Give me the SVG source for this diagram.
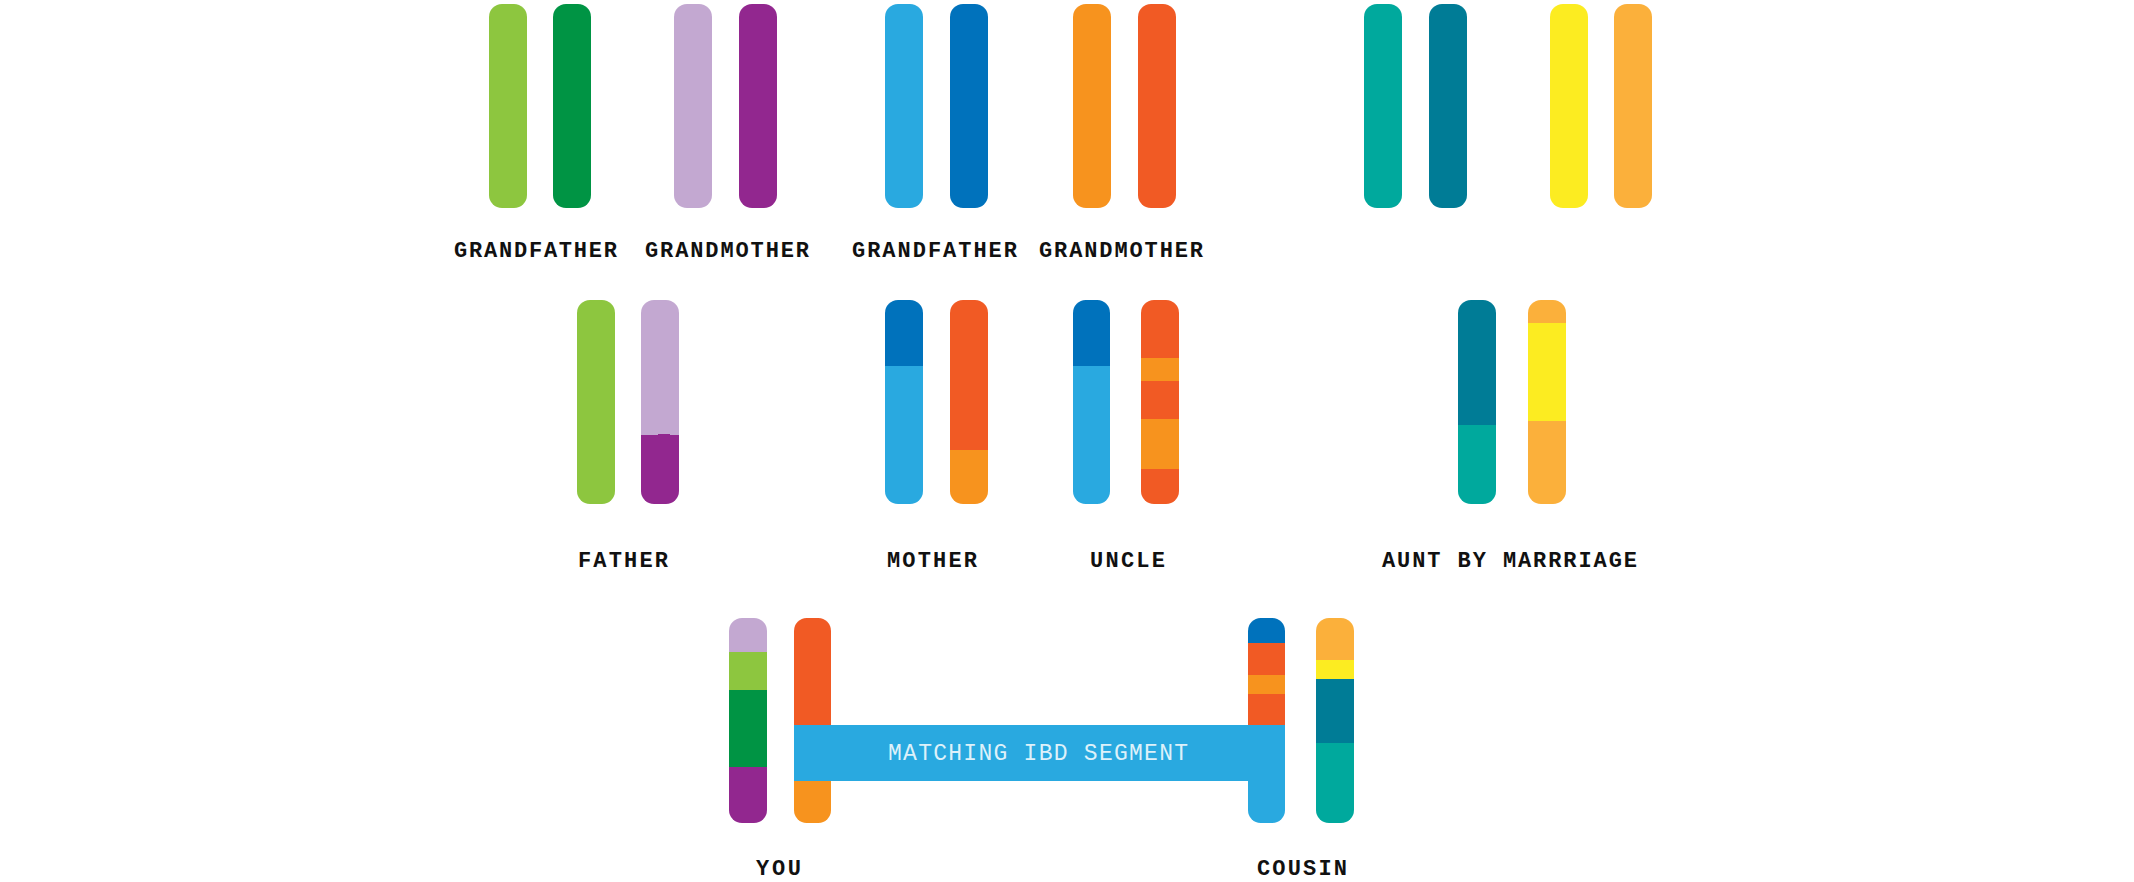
<svg xmlns="http://www.w3.org/2000/svg" width="2134" height="882" viewBox="0 0 2134 882">
<style>
.lbl{font-family:"Liberation Mono","DejaVu Sans Mono",monospace;font-size:22px;font-weight:bold;fill:#111}
.band-t{font-family:"Liberation Mono","DejaVu Sans Mono",monospace;font-size:23px;fill:#DDF1FA}
.lg{fill:#8DC63F}.g{fill:#009444}.lp{fill:#C3A8D1}.p{fill:#92278F}
.lb{fill:#29A9E0}.b{fill:#0072BC}.o{fill:#F7931E}.r{fill:#F15A24}
.t{fill:#00A99D}.dt{fill:#007C96}.y{fill:#FCEC21}.lo{fill:#FBB03B}
</style>
<defs>
<clipPath id="bar" clipPathUnits="objectBoundingBox"><rect x="0" y="0" width="1" height="1" rx="0.342" ry="0.0637"/></clipPath>
</defs>
<rect width="2134" height="882" fill="#fff"/>

<g id="grandfather1">
<rect class="lg" x="489" y="4" width="38" height="204" rx="13"/>
<rect class="g" x="553" y="4" width="38" height="204" rx="13"/>
<text class="lbl" x="454" y="257" textLength="163" lengthAdjust="spacing">GRANDFATHER</text>
</g>
<g id="grandmother1">
<rect class="lp" x="674" y="4" width="38" height="204" rx="13"/>
<rect class="p" x="739" y="4" width="38" height="204" rx="13"/>
<text class="lbl" x="645" y="257" textLength="164" lengthAdjust="spacing">GRANDMOTHER</text>
</g>
<g id="grandfather2">
<rect class="lb" x="885" y="4" width="38" height="204" rx="13"/>
<rect class="b" x="950" y="4" width="38" height="204" rx="13"/>
<text class="lbl" x="852" y="257" textLength="165" lengthAdjust="spacing">GRANDFATHER</text>
</g>
<g id="grandmother2">
<rect class="o" x="1073" y="4" width="38" height="204" rx="13"/>
<rect class="r" x="1138" y="4" width="38" height="204" rx="13"/>
<text class="lbl" x="1039" y="257" textLength="164" lengthAdjust="spacing">GRANDMOTHER</text>
</g>
<g id="grandparents3">
<rect class="t" x="1364" y="4" width="38" height="204" rx="13"/>
<rect class="dt" x="1429" y="4" width="38" height="204" rx="13"/>
</g>
<g id="grandparents4">
<rect class="y" x="1550" y="4" width="38" height="204" rx="13"/>
<rect class="lo" x="1614" y="4" width="38" height="204" rx="13"/>
</g>

<g id="father">
<rect class="lg" x="577" y="300" width="38" height="204" rx="13"/>
<g clip-path="url(#bar)">
<rect class="lp" x="641" y="300" width="38" height="135"/>
<rect class="p" x="641" y="435" width="38" height="69"/>
</g>
<rect class="p" x="658" y="434" width="12" height="2"/>
<text class="lbl" x="578" y="567" textLength="90" lengthAdjust="spacing">FATHER</text>
</g>
<g id="mother">
<g clip-path="url(#bar)">
<rect class="b" x="885" y="300" width="38" height="66"/>
<rect class="lb" x="885" y="366" width="38" height="138"/>
</g>
<g clip-path="url(#bar)">
<rect class="r" x="950" y="300" width="38" height="150"/>
<rect class="o" x="950" y="450" width="38" height="54"/>
</g>
<text class="lbl" x="887" y="567" textLength="90" lengthAdjust="spacing">MOTHER</text>
</g>
<g id="uncle">
<g clip-path="url(#bar)">
<rect class="b" x="1073" y="300" width="37" height="66"/>
<rect class="lb" x="1073" y="366" width="37" height="138"/>
</g>
<g clip-path="url(#bar)">
<rect class="r" x="1141" y="300" width="38" height="58"/>
<rect class="o" x="1141" y="358" width="38" height="23"/>
<rect class="r" x="1141" y="381" width="38" height="38"/>
<rect class="o" x="1141" y="419" width="38" height="50"/>
<rect class="r" x="1141" y="469" width="38" height="35"/>
</g>
<text class="lbl" x="1090" y="567" textLength="75" lengthAdjust="spacing">UNCLE</text>
</g>
<g id="aunt">
<g clip-path="url(#bar)">
<rect class="dt" x="1458" y="300" width="38" height="125"/>
<rect class="t" x="1458" y="425" width="38" height="79"/>
</g>
<g clip-path="url(#bar)">
<rect class="lo" x="1528" y="300" width="38" height="23"/>
<rect class="y" x="1528" y="323" width="38" height="98"/>
<rect class="lo" x="1528" y="421" width="38" height="83"/>
</g>
<text class="lbl" x="1382" y="567" textLength="255" lengthAdjust="spacing">AUNT BY MARRRIAGE</text>
</g>

<g id="you">
<g clip-path="url(#bar)">
<rect class="lp" x="729" y="618" width="38" height="34"/>
<rect class="lg" x="729" y="652" width="38" height="38"/>
<rect class="g" x="729" y="690" width="38" height="77"/>
<rect class="p" x="729" y="767" width="38" height="56"/>
</g>
<g clip-path="url(#bar)">
<rect class="r" x="794" y="618" width="37" height="107"/>
<rect class="o" x="794" y="725" width="37" height="98"/>
</g>
<text class="lbl" x="756" y="875" textLength="45" lengthAdjust="spacing">YOU</text>
</g>
<g id="cousin">
<g clip-path="url(#bar)">
<rect class="b" x="1248" y="618" width="37" height="25"/>
<rect class="r" x="1248" y="643" width="37" height="32"/>
<rect class="o" x="1248" y="675" width="37" height="19"/>
<rect class="r" x="1248" y="694" width="37" height="31"/>
<rect class="lb" x="1248" y="725" width="37" height="98"/>
</g>
<g clip-path="url(#bar)">
<rect class="lo" x="1316" y="618" width="38" height="42"/>
<rect class="y" x="1316" y="660" width="38" height="19"/>
<rect class="dt" x="1316" y="679" width="38" height="64"/>
<rect class="t" x="1316" y="743" width="38" height="80"/>
</g>
<text class="lbl" x="1257" y="875" textLength="90" lengthAdjust="spacing">COUSIN</text>
</g>

<g id="connectors">
<g id="ibd-segment">
<rect class="lb" x="794" y="725" width="491" height="56"/>
<text class="band-t" x="888" y="760" textLength="300" lengthAdjust="spacing">MATCHING IBD SEGMENT</text>
</g>
</g>
</svg>
